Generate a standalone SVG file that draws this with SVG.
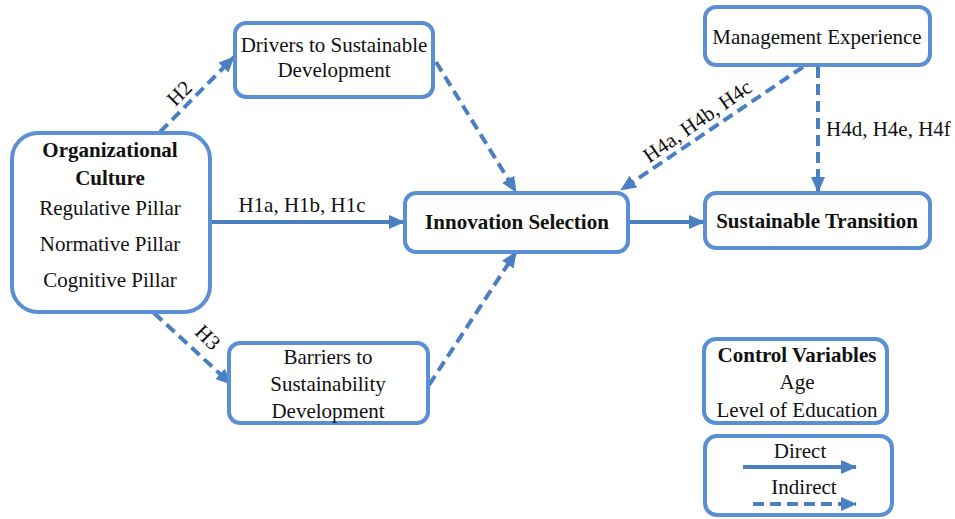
<svg xmlns="http://www.w3.org/2000/svg" width="955" height="519" viewBox="0 0 955 519">
<style>
.box{fill:#fff;stroke:#5a8fd4;stroke-width:4}
.t{font-family:"Liberation Serif","Times New Roman",serif;font-size:21px;fill:#111;text-anchor:middle}
.b{font-weight:bold}
.l{text-anchor:start}
.c{fill:none;stroke:#4a7fc1;stroke-width:4}
.d{stroke-dasharray:11 6}
</style>
<defs>
<marker id="ah" markerUnits="userSpaceOnUse" markerWidth="16" markerHeight="14" refX="15" refY="7" orient="auto">
<path d="M0,0 L16,7 L0,14 z" fill="#4a7fc1"/>
</marker>
</defs>
<rect width="955" height="519" fill="#fff"/>
<g id="connectors">
<line class="c d" x1="160" y1="132" x2="234" y2="57" marker-end="url(#ah)"/>
<line class="c d" x1="436" y1="62" x2="516" y2="192" marker-end="url(#ah)"/>
<line class="c" x1="211" y1="222" x2="404" y2="222" marker-end="url(#ah)"/>
<line class="c d" x1="154" y1="313" x2="231" y2="384" marker-end="url(#ah)"/>
<line class="c d" x1="429" y1="385" x2="516" y2="252" marker-end="url(#ah)"/>
<line class="c" x1="629" y1="222" x2="704" y2="222" marker-end="url(#ah)"/>
<line class="c d" x1="803" y1="67" x2="621" y2="190" marker-end="url(#ah)"/>
<line class="c d" x1="818" y1="67" x2="818" y2="192" marker-end="url(#ah)"/>
<text class="t" x="180" y="100" transform="rotate(-45 180 94)">H2</text>
<text class="t" x="302" y="212">H1a, H1b, H1c</text>
<text class="t" x="207" y="344" transform="rotate(45 207 338)">H3</text>
<text class="t" x="698" y="128" transform="rotate(-35 698 122)">H4a, H4b, H4c</text>
<text class="t l" x="826" y="136">H4d, H4e, H4f</text>
</g>
<g id="org">
<rect class="box" x="12" y="133" width="198" height="179" rx="26"/>
<text class="t b" x="110" y="157">Organizational</text>
<text class="t b" x="110" y="185">Culture</text>
<text class="t" x="110" y="215">Regulative Pillar</text>
<text class="t" x="110" y="251">Normative Pillar</text>
<text class="t" x="110" y="287">Cognitive Pillar</text>
</g>
<g id="drivers">
<rect class="box" x="235" y="23" width="198" height="74" rx="11"/>
<text class="t" x="334" y="52">Drivers to Sustainable</text>
<text class="t" x="334" y="77">Development</text>
</g>
<g id="barriers">
<rect class="box" x="229" y="343" width="199" height="80" rx="11"/>
<text class="t" x="328" y="364">Barriers to</text>
<text class="t" x="328" y="391">Sustainability</text>
<text class="t" x="328" y="418">Development</text>
</g>
<g id="innovation">
<rect class="box" x="405" y="193" width="223" height="59" rx="11"/>
<text class="t b" x="517" y="229">Innovation Selection</text>
</g>
<g id="management">
<rect class="box" x="705" y="7" width="225" height="58" rx="11"/>
<text class="t" x="817" y="44">Management Experience</text>
</g>
<g id="transition">
<rect class="box" x="705" y="193" width="225" height="55" rx="11"/>
<text class="t b" x="817" y="228">Sustainable Transition</text>
</g>
<g id="controls">
<rect class="box" x="704" y="339" width="183" height="84" rx="12"/>
<text class="t b" x="797" y="362">Control Variables</text>
<text class="t" x="797" y="389">Age</text>
<text class="t" x="797" y="417">Level of Education</text>
</g>
<g id="legend">
<rect class="box" x="705" y="436" width="187" height="79" rx="12"/>
<text class="t" x="800" y="458">Direct</text>
<line class="c" x1="743" y1="467" x2="856" y2="467" marker-end="url(#ah)"/>
<text class="t" x="804" y="494">Indirect</text>
<line class="c d" x1="753" y1="504" x2="856" y2="504" marker-end="url(#ah)"/>
</g>
</svg>
